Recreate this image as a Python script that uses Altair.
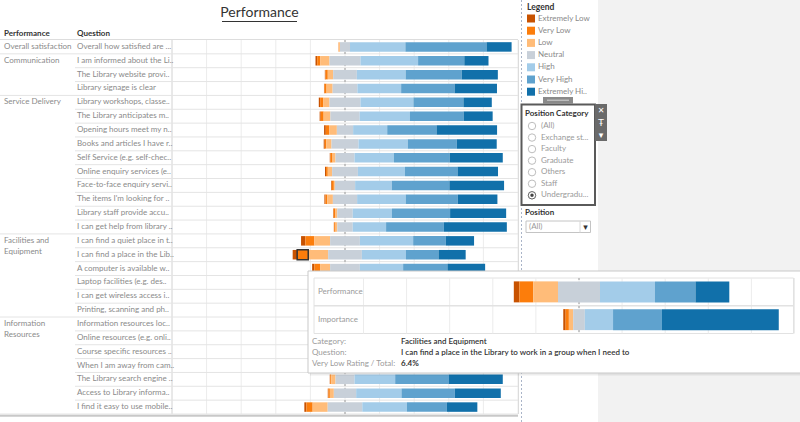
import altair as alt
import pandas as pd

FONT = "Lato"
FS = 8.0

# ---------------- data ----------------
levels = ["Extremely Low", "Very Low", "Low", "Neutral", "High", "Very High", "Extremely High"]
level_colors = ["#c85200", "#fc7d0b", "#ffbc79", "#c8d0d9", "#a3cce9", "#5fa2ce", "#1170aa"]

categories = (["Overall satisfaction"] + ["Communication"] * 3 + ["Service Delivery"] * 10
              + ["Facilities and Equipment"] * 6 + ["Information Resources"] * 7)

category_labels = {
    "Overall satisfaction": "Overall satisfaction",
    "Communication": "Communication",
    "Service Delivery": "Service Delivery",
    "Facilities and Equipment": "Facilities and\nEquipment",
    "Information Resources": "Information\nResources",
}

questions = [
    "Overall how satisfied are ...",
    "I am informed about the Li..",
    "The Library website provi..",
    "Library signage is clear",
    "Library workshops, classe..",
    "The Library anticipates m..",
    "Opening hours meet my n..",
    "Books and articles I have r..",
    "Self Service (e.g. self-chec..",
    "Online enquiry services (e..",
    "Face-to-face enquiry servi..",
    "The items I'm looking for ..",
    "Library staff provide accu..",
    "I can get help from library ..",
    "I can find a quiet place in t..",
    "I can find a place in the Lib..",
    "A computer is available w..",
    "Laptop facilities (e.g. des..",
    "I can get wireless access i..",
    "Printing, scanning and ph..",
    "Information resources loc..",
    "Online resources (e.g. onli..",
    "Course specific resources ..",
    "When I am away from cam..",
    "The Library search engine ..",
    "Access to Library informa..",
    "I find it easy to use mobile..",
]

extremely_low = [0.0, 1.0, 0.4, 0.3, 0.8, 0.6, 1.0, 0.6, 0.4, 0.6, 0.4, 0.6, 0.3, 0.2,
                 2.5, 2.6, 1.3, 0.6, 1.0, 1.5, 0.5, 0.4, 0.8, 0.6, 0.3, 0.4, 1.2]
very_low = [0.3, 1.7, 1.3, 1.2, 1.7, 1.7, 1.9, 0.8, 1.2, 1.0, 1.2, 1.0, 0.8, 0.8,
            5.2, 6.4, 3.3, 1.5, 2.0, 3.0, 1.0, 0.8, 1.5, 1.2, 0.5, 0.8, 3.6]
low = [0.5, 5.4, 3.1, 3.5, 3.7, 3.9, 4.5, 3.1, 1.7, 2.5, 0.6, 3.3, 1.3, 1.0,
       9.1, 11.5, 5.8, 4.0, 4.5, 7.0, 3.0, 2.5, 4.5, 3.5, 2.5, 2.3, 8.7]
neutral = [5.8, 17.9, 13.7, 14.3, 17.9, 16.9, 9.4, 15.6, 11.0, 14.9, 11.7, 14.0, 8.9, 8.9,
           17.2, 19.5, 17.2, 16.0, 12.5, 18.0, 14.0, 11.5, 15.0, 14.0, 11.0, 12.9, 20.0]
high = [32.0, 33.3, 28.2, 25.3, 30.6, 29.1, 19.7, 28.5, 22.8, 27.2, 21.2, 28.1, 22.7, 19.3,
        30.8, 25.5, 25.0, 28.0, 24.0, 28.0, 28.0, 25.0, 27.0, 26.0, 23.5, 26.2, 25.8]
very_high = [46.9, 26.7, 32.4, 30.9, 28.9, 31.0, 28.5, 28.3, 32.2, 30.4, 33.3, 30.1, 33.6, 33.4,
             18.9, 18.8, 25.6, 28.0, 29.0, 24.0, 31.0, 32.0, 29.0, 30.0, 31.1, 30.8, 23.1]
extremely_high = [14.5, 14.0, 20.9, 24.5, 16.4, 16.8, 35.0, 23.1, 30.7, 23.4, 31.6, 22.9, 32.4, 36.4,
                  16.3, 15.7, 21.8, 21.9, 27.0, 18.5, 22.5, 27.8, 22.2, 24.7, 31.1, 26.6, 17.6]

# tooltip (selected question)
tip_rows = ["Performance", "Importance"]
tip_performance = [2.6, 6.4, 11.5, 19.5, 25.5, 18.8, 15.7]
tip_importance = [1.1, 1.5, 2.0, 5.4, 13.1, 22.7, 54.2]
tip_category = "Facilities and Equipment"
tip_question = "I can find a place in the Library to work in a group when I need to"
tip_rating = "6.4%"
selected_row = 15  # index of the highlighted question
selected_level = "Very Low"

grid_ticks = [-1.0, -0.8, -0.6, -0.4, -0.2, 0.0, 0.2, 0.4, 0.6, 0.8, 1.0]

filter_options = ["(All)", "Exchange st...", "Faculty", "Graduate", "Others", "Staff", "Undergradu..."]
filter_selected = "Undergradu..."


# --------------- helpers ---------------
def diverging(vals):
    out = []
    start = -(vals[0] + vals[1] + vals[2] + vals[3] / 2.0)
    for lev, v in zip(levels, vals):
        out.append((lev, v, start / 100.0, (start + v) / 100.0))
        start += v
    return out


rows = []
for i, q in enumerate(questions):
    vals = [extremely_low[i], very_low[i], low[i], neutral[i], high[i], very_high[i], extremely_high[i]]
    for lev, v, a, b in diverging(vals):
        rows.append(dict(category=categories[i], question=q, level=lev, pct=v, x0=a, x1=b,
                         selected=(i == selected_row and lev == selected_level)))
bars_df = pd.DataFrame(rows)

tip_rows_data = []
for name, vals in zip(tip_rows, [tip_performance, tip_importance]):
    for lev, v, a, b in diverging(vals):
        tip_rows_data.append(dict(row=name, level=lev, pct=v, x0=a, x1=b))
tip_df = pd.DataFrame(tip_rows_data)

sep_df = pd.DataFrame({
    "question": questions,
    "group_end": [i == len(questions) - 1 or categories[i] != categories[i + 1] for i in range(len(questions))],
})
cat_df = pd.DataFrame({
    "question": [questions[categories.index(c)] for c in category_labels],
    "label": list(category_labels.values()),
})
q_df = pd.DataFrame({"question": questions})
grid_df = pd.DataFrame({"t": grid_ticks})
opt_df = pd.DataFrame({"opt": filter_options, "sel": [o == filter_selected for o in filter_options]})


def one():
    return alt.Chart(pd.DataFrame({"k": [0]}))


def txt(s, x, y, size=FS, color="#888888", weight="normal", align="left", font=FONT):
    return alt.Chart(pd.DataFrame({"t": [s]})).mark_text(
        align=align, baseline="middle", fontSize=size, color=color, fontWeight=weight, font=font
    ).encode(text="t:N", x=alt.value(x), y=alt.value(y))


def box(x, x2, y, y2, **kw):
    return one().mark_rect(**kw).encode(x=alt.value(x), x2=alt.value(x2), y=alt.value(y), y2=alt.value(y2))


def hline(x, x2, y, **kw):
    return one().mark_rule(**kw).encode(x=alt.value(x), x2=alt.value(x2), y=alt.value(y))


def vline(x, y, y2, **kw):
    return one().mark_rule(**kw).encode(x=alt.value(x), y=alt.value(y), y2=alt.value(y2))


# --------------- scales ---------------
XM = alt.Scale(domain=[-1, 1], range=[172, 518])
YM = alt.Scale(domain=questions, range=[40, 414], paddingInner=0, paddingOuter=0)
XT = alt.Scale(domain=[-1, 1], range=[363.5, 794.5])
YT = alt.Scale(domain=tip_rows, range=[278, 333.5], paddingInner=0, paddingOuter=0)
YO = alt.Scale(domain=filter_options, range=[126, 195.3], padding=0)
COL = alt.Scale(domain=levels, range=level_colors)

layers = []

# right-hand panel background
layers.append(box(598, 800, 0, 422, fill="#f2f2f2"))
layers.append(vline(521.5, 0, 422, stroke="#a9b4c8", strokeDash=[2, 2], strokeWidth=1))

# ---- main chart ----
layers.append(alt.Chart(grid_df).mark_rule(color="#ececec", strokeWidth=1).encode(
    x=alt.X("t:Q", scale=XM, axis=None), y=alt.value(40), y2=alt.value(414)))
layers.append(vline(172, 40, 414, stroke="#dcdcdc"))
layers.append(vline(518.5, 40, 414, stroke="#dcdcdc"))
layers.append(hline(0, 518, 39.5, stroke="#dddddd"))
layers.append(alt.Chart(sep_df).transform_filter("!datum.group_end").mark_rule(color="#e4e4e4").encode(
    x=alt.value(75), x2=alt.value(518),
    y=alt.Y("question:N", scale=YM, axis=None, bandPosition=1)))
layers.append(alt.Chart(sep_df).transform_filter("datum.group_end").mark_rule(color="#e4e4e4").encode(
    x=alt.value(0), x2=alt.value(518),
    y=alt.Y("question:N", scale=YM, axis=None, bandPosition=1)))
layers.append(hline(0, 518, 415.8, stroke="#c8c8c8", strokeWidth=2))
layers.append(alt.Chart(grid_df).transform_filter("datum.t == 0").mark_rule(
    color="#9a9a9a", strokeDash=[2, 2], strokeWidth=1).encode(
    x=alt.X("t:Q", scale=XM, axis=None), y=alt.value(40), y2=alt.value(414)))

layers.append(alt.Chart(bars_df).mark_bar(size=9.5).encode(
    x=alt.X("x0:Q", scale=XM, axis=None), x2="x1:Q",
    y=alt.Y("question:N", scale=YM, axis=None),
    color=alt.Color("level:N", scale=COL, legend=alt.Legend(
        orient="none", legendX=527, legendY=3, title="Legend",
        titleFont=FONT, titleFontSize=8.5, titleFontWeight="bold", titleColor="#333333", titlePadding=3,
        labelFont=FONT, labelFontSize=FS, labelColor="#8a8a8a", labelOffset=3, labelLimit=80,
        labelExpr="datum.label == 'Extremely High' ? 'Extremely Hi..' : datum.label",
        symbolType="square", symbolSize=64, symbolStrokeWidth=0, symbolOpacity=1, rowPadding=4.2)),
    tooltip=["category:N", "question:N", "level:N", "pct:Q"]))
layers.append(alt.Chart(bars_df).transform_filter("datum.selected").mark_bar(
    size=10, fillOpacity=0, stroke="#333333", strokeWidth=1.5).encode(
    x=alt.X("x0:Q", scale=XM, axis=None), x2="x1:Q",
    y=alt.Y("question:N", scale=YM, axis=None)))

layers.append(alt.Chart(q_df).mark_text(align="left", baseline="middle", font=FONT, fontSize=FS,
                                        color="#8a8a8a").encode(
    x=alt.value(77), y=alt.Y("question:N", scale=YM, axis=None), text="question:N"))
layers.append(alt.Chart(cat_df).mark_text(align="left", baseline="top", dy=-4.0, lineBreak="\n",
                                          lineHeight=11.5, font=FONT, fontSize=FS, color="#8a8a8a").encode(
    x=alt.value(4), y=alt.Y("question:N", scale=YM, axis=None), text="label:N"))

layers.append(txt("Performance", 4, 34, color="#333333", weight="bold"))
layers.append(txt("Question", 77, 34, color="#333333", weight="bold"))
layers.append(txt("Performance", 259.5, 13, size=14, color="#333333", align="center"))
layers.append(hline(222, 297, 21.5, stroke="#333333", strokeWidth=1))

# ---- filter panel ----
layers.append(box(543, 573, 97, 103.5, fill="#8a8a8a"))
layers.append(hline(547, 569, 100.2, stroke="#e8e8e8", strokeWidth=0.8))
layers.append(box(521.5, 595, 104.5, 205, fill="white", stroke="#5a5a5a", strokeWidth=2))
layers.append(box(595, 607, 104, 141, fill="#6a6a6a"))
layers.append(txt("\u2715", 601, 110.5, size=8, color="white", align="center", font="DejaVu Sans"))
layers.append(txt("\u0166", 601, 122.5, size=9, color="white", align="center", font="DejaVu Sans"))
layers.append(txt("\u25be", 601, 134.5, size=9, color="white", align="center", font="DejaVu Sans"))
layers.append(txt("Position Category", 525, 113.5, color="#333333", weight="bold"))
layers.append(alt.Chart(opt_df).mark_point(shape="circle", filled=True, fill="white", stroke="#bdbdbd",
                                           strokeWidth=1, size=55, opacity=1).encode(
    x=alt.value(532), y=alt.Y("opt:N", scale=YO, axis=None)))
layers.append(alt.Chart(opt_df).transform_filter("datum.sel").mark_point(
    shape="circle", filled=True, fill="white", stroke="#666666", strokeWidth=1, size=55, opacity=1).encode(
    x=alt.value(532), y=alt.Y("opt:N", scale=YO, axis=None)))
layers.append(alt.Chart(opt_df).transform_filter("datum.sel").mark_circle(size=12, color="#444444",
                                                                          opacity=1).encode(
    x=alt.value(532), y=alt.Y("opt:N", scale=YO, axis=None)))
layers.append(alt.Chart(opt_df).mark_text(align="left", baseline="middle", font=FONT, fontSize=FS,
                                          color="#9a9a9a").encode(
    x=alt.value(541), y=alt.Y("opt:N", scale=YO, axis=None), text="opt:N"))
layers.append(txt("Position", 525, 213, color="#333333", weight="bold"))
layers.append(box(526, 590.5, 221, 232.5, fill="white", stroke="#c4c4c4", strokeWidth=1))
layers.append(vline(580, 221, 232.5, stroke="#d8d8d8"))
layers.append(txt("(All)", 529, 227, color="#9a9a9a"))
layers.append(txt("\u25be", 585.5, 227, size=9, color="#333333", align="center", font="DejaVu Sans"))

# ---- tooltip ----
layers.append(box(310, 803, 273, 375.5, fill="#000000", opacity=0.07))
layers.append(box(308, 802, 271, 373, fill="white", stroke="#c9c9c9", strokeWidth=1))
layers.append(box(314, 793.5, 278, 333.5, fill="white", stroke="#e2e2e2", strokeWidth=1))
layers.append(alt.Chart(grid_df).mark_rule(color="#ececec", strokeWidth=1).encode(
    x=alt.X("t:Q", scale=XT, axis=None), y=alt.value(278), y2=alt.value(333.5)))
layers.append(hline(314, 793.5, 305.7, stroke="#e2e2e2", strokeWidth=1.5))
layers.append(alt.Chart(grid_df).transform_filter("datum.t == 0").mark_rule(
    color="#9a9a9a", strokeDash=[2, 2], strokeWidth=1).encode(
    x=alt.X("t:Q", scale=XT, axis=None), y=alt.value(278), y2=alt.value(333.5)))
layers.append(alt.Chart(tip_df).mark_bar(size=21).encode(
    x=alt.X("x0:Q", scale=XT, axis=None), x2="x1:Q",
    y=alt.Y("row:N", scale=YT, axis=None),
    color=alt.Color("level:N", scale=COL, legend=None)))
layers.append(alt.Chart(pd.DataFrame({"row": tip_rows})).mark_text(
    align="left", baseline="middle", font=FONT, fontSize=FS, color="#9a9a9a").encode(
    x=alt.value(318), y=alt.Y("row:N", scale=YT, axis=None), text="row:N"))
layers.append(txt("Category:", 312, 341.7, color="#9a9a9a"))
layers.append(txt("Question:", 312, 352.8, color="#9a9a9a"))
layers.append(txt("Very Low Rating / Total:", 312, 364, color="#9a9a9a"))
layers.append(txt(tip_category, 401, 341.7, color="#333333", weight=600))
layers.append(txt(tip_question, 401, 352.8, color="#333333", weight=600))
layers.append(txt(tip_rating, 401, 364, color="#333333", weight="bold"))

chart = alt.layer(*layers).resolve_scale(
    x="independent", y="independent", color="independent"
).properties(
    width=800, height=422, padding=0, background="white",
    autosize=alt.AutoSizeParams(type="none"),
).configure_view(stroke=None)

chart.save("out.html", embed_options={"renderer": "svg", "actions": False})
